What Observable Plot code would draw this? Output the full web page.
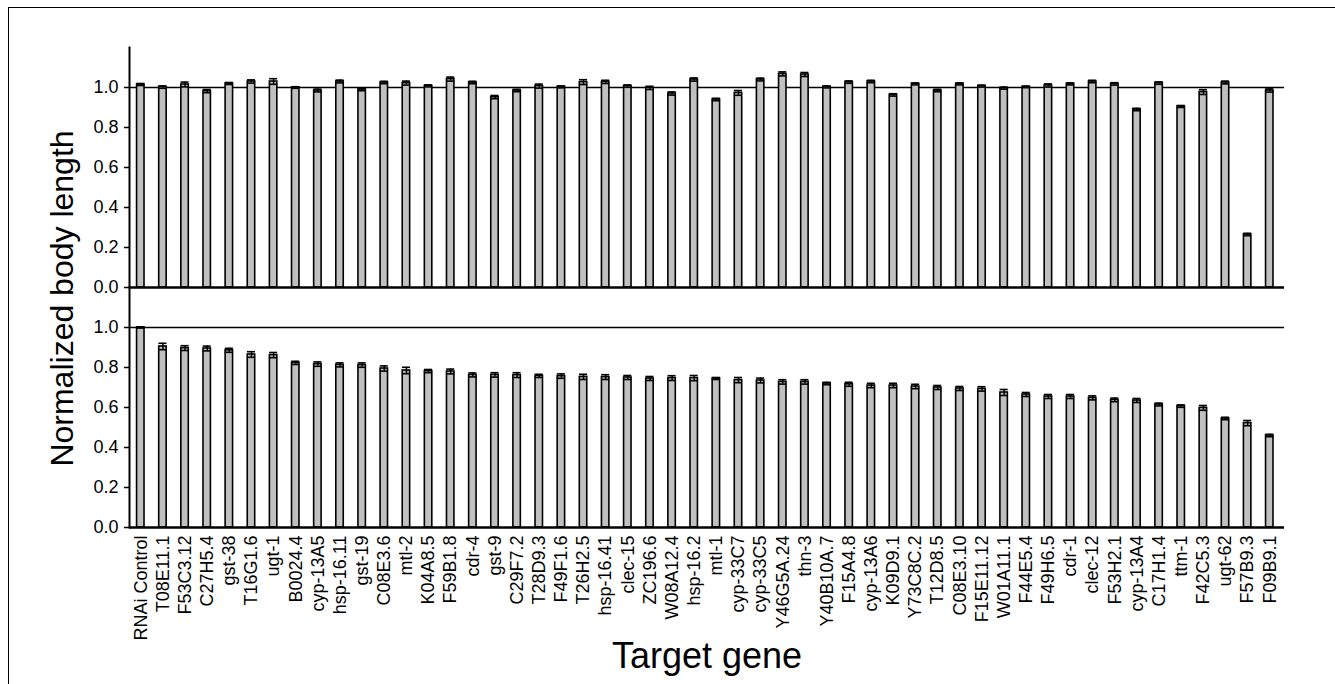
<!DOCTYPE html>
<html><head><meta charset="utf-8">
<script src="https://cdn.jsdelivr.net/npm/d3@7"></script>
<script src="https://cdn.jsdelivr.net/npm/@observablehq/plot@0.6"></script>
<style>
html,body{margin:0;padding:0;background:#fff;}
#wrap{position:relative;width:1335px;height:684px;overflow:hidden;}
#border{position:absolute;left:7.5px;top:6.5px;width:1400px;height:800px;border-left:1.3px solid #000;border-top:1.3px solid #000;}
#chart{position:absolute;left:0;top:0;}
#chart g[aria-label="x-axis tick label"] text,
#chart g[aria-label="y-axis tick label"] text{font-size:18px !important;}
</style></head><body>
<div id="wrap"><div id="border"></div><div id="chart"></div></div>
<script>
const genes = ["RNAi Control","T08E11.1","F53C3.12","C27H5.4","gst-38","T16G1.6","ugt-1","B0024.4","cyp-13A5","hsp-16.11",
  "gst-19","C08E3.6","mtl-2","K04A8.5","F59B1.8","cdr-4","gst-9","C29F7.2","T28D9.3","F49F1.6",
  "T26H2.5","hsp-16.41","clec-15","ZC196.6","W08A12.4","hsp-16.2","mtl-1","cyp-33C7","cyp-33C5","Y46G5A.24",
  "thn-3","Y40B10A.7","F15A4.8","cyp-13A6","K09D9.1","Y73C8C.2","T12D8.5","C08E3.10","F15E11.12","W01A11.1",
  "F44E5.4","F49H6.5","cdr-1","clec-12","F53H2.1","cyp-13A4","C17H1.4","ttm-1","F42C5.3","ugt-62",
  "F57B9.3","F09B9.1"];

// upper panel
const topVals = [1.015,1.002,1.015,0.982,1.020,1.030,1.030,1.000,0.985,1.030,
  0.990,1.025,1.022,1.008,1.042,1.025,0.952,0.985,1.007,1.003,
  1.027,1.028,1.007,0.998,0.970,1.040,0.940,0.973,1.040,1.068,
  1.065,1.003,1.027,1.030,0.963,1.018,0.985,1.018,1.007,0.997,
  1.003,1.010,1.018,1.030,1.018,0.890,1.022,0.905,0.977,1.025,
  0.265,0.985];
const topErr = [0.005,0.006,0.012,0.008,0.005,0.008,0.014,0.004,0.007,0.007,
  0.006,0.006,0.010,0.005,0.010,0.006,0.008,0.006,0.010,0.005,
  0.012,0.008,0.006,0.008,0.008,0.008,0.006,0.012,0.007,0.010,
  0.010,0.005,0.006,0.006,0.006,0.005,0.006,0.005,0.005,0.005,
  0.004,0.008,0.005,0.006,0.006,0.006,0.006,0.005,0.012,0.007,
  0.006,0.008];

// lower panel
const botVals = [1.000,0.905,0.897,0.895,0.886,0.865,0.862,0.823,0.817,0.813,
  0.812,0.795,0.785,0.782,0.780,0.763,0.763,0.762,0.758,0.757,
  0.753,0.752,0.750,0.745,0.747,0.747,0.745,0.737,0.735,0.728,
  0.728,0.720,0.716,0.710,0.710,0.705,0.700,0.695,0.693,0.675,
  0.665,0.655,0.655,0.648,0.638,0.635,0.615,0.607,0.598,0.545,
  0.522,0.460];
const botErr = [0.003,0.016,0.012,0.012,0.010,0.014,0.013,0.008,0.011,0.010,
  0.011,0.013,0.016,0.008,0.012,0.010,0.011,0.012,0.008,0.011,
  0.013,0.012,0.010,0.010,0.012,0.013,0.005,0.013,0.012,0.011,
  0.011,0.006,0.010,0.011,0.011,0.011,0.010,0.010,0.011,0.015,
  0.010,0.010,0.010,0.010,0.009,0.010,0.007,0.006,0.012,0.006,
  0.013,0.006];

const yTicks = [0, 0.2, 0.4, 0.6, 0.8, 1.0];
const yLabel = "Normalized body length";
const xLabel = "Target gene";

const rows = [];
genes.forEach((g, i) => {
  rows.push({gene: g, panel: "top", value: topVals[i], err: topErr[i]});
  rows.push({gene: g, panel: "bottom", value: botVals[i], err: botErr[i]});
});

const chart = Plot.plot({
  width: 1335, height: 684,
  marginLeft: 129, marginRight: 51, marginTop: 47, marginBottom: 157,
  style: {fontFamily: "'Liberation Sans', Arial, Helvetica, sans-serif", fontSize: "18px", background: "transparent", color: "#000"},
  x: {domain: genes, paddingInner: 0.6, paddingOuter: 0.3875, align: 0.4, round: false, axis: null},
  y: {domain: [0, 1.2], axis: null},
  fy: {domain: ["top", "bottom"], padding: 0, axis: null},
  marks: [
    Plot.ruleY([1], {stroke: "#000", strokeWidth: 1.5}),
    Plot.barY(rows, {x: "gene", y: "value", fy: "panel", fill: "#c0c0c0", stroke: "#000", strokeWidth: 1.6, insetLeft: 0.7, insetRight: 0.7}),
    Plot.ruleX(rows, {x: "gene", y1: d => d.value - d.err, y2: d => d.value + d.err, fy: "panel", stroke: "#000", strokeWidth: 1.5}),
    Plot.tickY(rows, {x: "gene", y: d => d.value + d.err, fy: "panel", stroke: "#000", strokeWidth: 1.6, inset: 0.4}),
    Plot.tickY(rows, {x: "gene", y: d => d.value - d.err, fy: "panel", stroke: "#000", strokeWidth: 1.6, inset: 0.4}),
    Plot.ruleY([0], {stroke: "#000", strokeWidth: 2.5}),
    Plot.frame({anchor: "left", stroke: "#000", strokeWidth: 2}),
    Plot.axisY({ticks: yTicks, tickFormat: d3.format(".1f"), tickSize: 5, tickPadding: 6, fontSize: 18, strokeWidth: 1.5, label: null}),
    Plot.axisX({tickSize: 0, tickPadding: 8, tickRotate: -90, fontSize: 18, label: null}),
    Plot.text([yLabel], {fy: ["top"], frameAnchor: "bottom-left", rotate: -90, dx: -67, dy: 11, fontSize: 32, textAnchor: "middle", lineAnchor: "middle"}),
    Plot.text([xLabel], {fy: ["bottom"], frameAnchor: "bottom", dy: 129, fontSize: 36, textAnchor: "middle", lineAnchor: "middle"})
  ]
});
document.getElementById("chart").appendChild(chart);
</script>
</body></html>
